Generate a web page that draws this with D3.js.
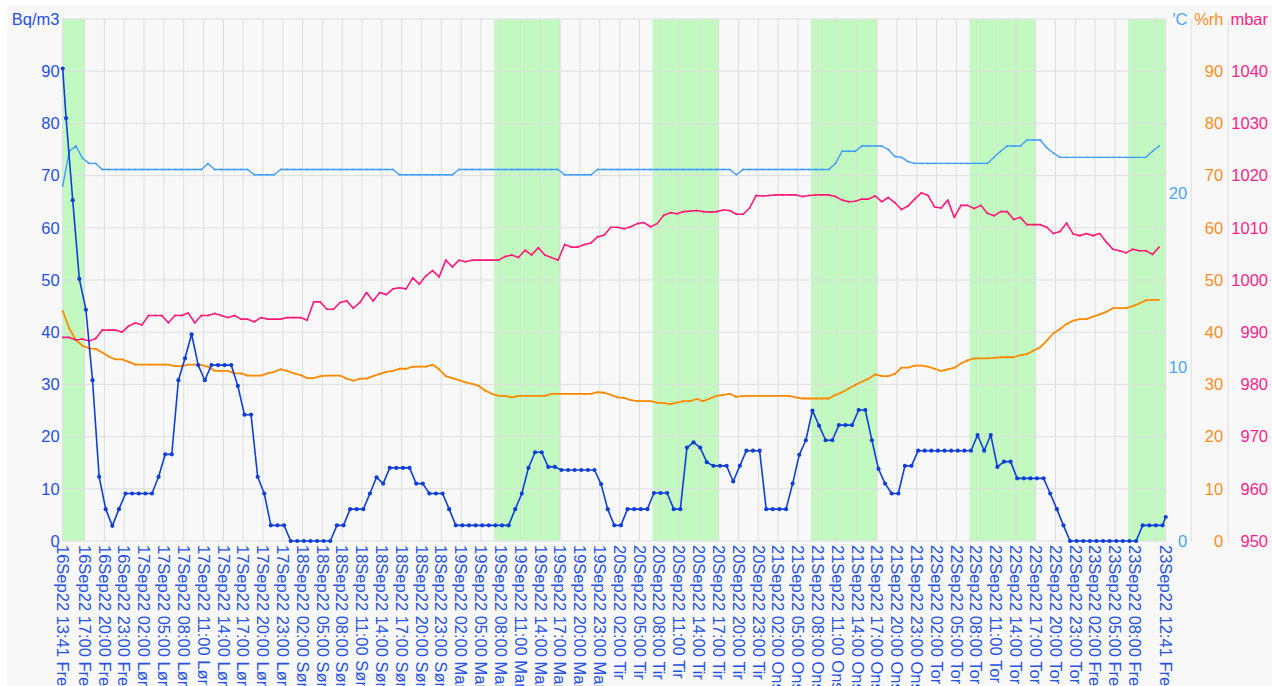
<!DOCTYPE html>
<html>
<head>
<meta charset="utf-8">
<script src="https://cdn.jsdelivr.net/npm/d3@7"></script>
<style>
  html, body { margin: 0; padding: 0; background: #ffffff; }
  svg { display: block; font-family: "Liberation Sans", Arial, sans-serif; }
</style>
</head>
<body>
<svg id="chart" width="1272" height="686"></svg>
<script>
// radon: first reading 13:41, then hourly at hh:12, last reading 12:41
const radonStart = new Date(2022, 8, 16, 13, 41);
const radonEnd = new Date(2022, 8, 23, 12, 41);
const radon = [
  90.5, 81, 65.3, 50.2, 44.3, 30.8, 12.3, 6.1, 2.9, 6.1,
  9.1, 9.1, 9.1, 9.1, 9.1, 12.3, 16.6, 16.6, 30.8, 35,
  39.6, 33.7, 30.8, 33.7, 33.7, 33.7, 33.7, 29.7, 24.2, 24.2,
  12.3, 9.1, 3, 3, 3, 0, 0, 0, 0, 0,
  0, 0, 3, 3, 6.1, 6.1, 6.1, 9.1, 12.2, 11,
  14, 14, 14, 14, 11, 11, 9.1, 9.1, 9.1, 6.1,
  3, 3, 3, 3, 3, 3, 3, 3, 3, 6.1,
  9.1, 14, 17, 17, 14.2, 14.2, 13.6, 13.6, 13.6, 13.6,
  13.6, 13.6, 10.9, 6.1, 3, 3, 6.1, 6.1, 6.1, 6.1,
  9.2, 9.2, 9.2, 6.1, 6.1, 17.9, 18.9, 17.9, 15.1, 14.4,
  14.4, 14.4, 11.4, 14.4, 17.3, 17.3, 17.3, 6.1, 6.1, 6.1,
  6.1, 11, 16.5, 19.3, 25, 22.1, 19.3, 19.3, 22.2, 22.2,
  22.2, 25.1, 25.1, 19.3, 13.8, 11, 9.1, 9.1, 14.4, 14.4,
  17.3, 17.3, 17.3, 17.3, 17.3, 17.3, 17.3, 17.3, 17.3, 20.3,
  17.3, 20.3, 14.2, 15.2, 15.2, 12, 12, 12, 12, 12,
  9.1, 6.1, 3, 0, 0, 0, 0, 0, 0, 0,
  0, 0, 0, 0, 3, 3, 3, 3, 4.6
];

// climate sensor: hourly at hh:41 from 16Sep 13:41
const envStart = new Date(2022, 8, 16, 13, 41);
const temperature = [
  20.4, 22.4, 22.7, 22.0, 21.7, 21.7, 21.35, 21.35, 21.35, 21.35,
  21.35, 21.35, 21.35, 21.35, 21.35, 21.35, 21.35, 21.35, 21.35, 21.35,
  21.35, 21.35, 21.7, 21.35, 21.35, 21.35, 21.35, 21.35, 21.35, 21.05,
  21.05, 21.05, 21.05, 21.35, 21.35, 21.35, 21.35, 21.35, 21.35, 21.35,
  21.35, 21.35, 21.35, 21.35, 21.35, 21.35, 21.35, 21.35, 21.35, 21.35,
  21.35, 21.05, 21.05, 21.05, 21.05, 21.05, 21.05, 21.05, 21.05, 21.05,
  21.35, 21.35, 21.35, 21.35, 21.35, 21.35, 21.35, 21.35, 21.35, 21.35,
  21.35, 21.35, 21.35, 21.35, 21.35, 21.35, 21.05, 21.05, 21.05, 21.05,
  21.05, 21.35, 21.35, 21.35, 21.35, 21.35, 21.35, 21.35, 21.35, 21.35,
  21.35, 21.35, 21.35, 21.35, 21.35, 21.35, 21.35, 21.35, 21.35, 21.35,
  21.35, 21.35, 21.05, 21.35, 21.35, 21.35, 21.35, 21.35, 21.35, 21.35,
  21.35, 21.35, 21.35, 21.35, 21.35, 21.35, 21.35, 21.7, 22.4, 22.4,
  22.4, 22.7, 22.7, 22.7, 22.7, 22.5, 22.1, 22.05, 21.8, 21.7,
  21.7, 21.7, 21.7, 21.7, 21.7, 21.7, 21.7, 21.7, 21.7, 21.7,
  21.7, 22.05, 22.4, 22.7, 22.7, 22.7, 23.05, 23.05, 23.05, 22.6,
  22.3, 22.05, 22.05, 22.05, 22.05, 22.05, 22.05, 22.05, 22.05, 22.05,
  22.05, 22.05, 22.05, 22.05, 22.05, 22.4, 22.7
];
const humidity = [
  44.1, 40.7, 38.5, 37.4, 36.9, 36.8, 36.1, 35.3, 34.8, 34.8,
  34.3, 33.8, 33.8, 33.8, 33.8, 33.8, 33.8, 33.5, 33.5, 33.8,
  33.8, 33.7, 33.4, 32.6, 32.6, 32.6, 32.1, 32.1, 31.7, 31.7,
  31.7, 32.1, 32.4, 32.9, 32.6, 32.1, 31.8, 31.2, 31.2, 31.6,
  31.7, 31.7, 31.7, 31.1, 30.7, 31.1, 31.1, 31.6, 32.0, 32.4,
  32.6, 33.0, 33.0, 33.4, 33.4, 33.4, 33.8, 32.9, 31.6, 31.2,
  30.8, 30.4, 30.1, 29.7, 28.8, 28.2, 27.8, 27.8, 27.5, 27.8,
  27.8, 27.8, 27.8, 27.8, 28.2, 28.2, 28.2, 28.2, 28.2, 28.2,
  28.2, 28.5, 28.4, 28.0, 27.5, 27.4, 27.0, 26.8, 26.8, 26.8,
  26.5, 26.4, 26.2, 26.5, 26.8, 26.8, 27.2, 26.8, 27.3, 27.8,
  28.0, 28.2, 27.6, 27.8, 27.8, 27.8, 27.8, 27.8, 27.8, 27.8,
  27.8, 27.5, 27.3, 27.3, 27.3, 27.3, 27.3, 28.0, 28.5, 29.2,
  29.9, 30.5, 31.1, 31.9, 31.6, 31.6, 32.0, 33.2, 33.2, 33.6,
  33.6, 33.4, 33.0, 32.6, 32.9, 33.2, 34.0, 34.6, 35.0, 35.0,
  35.0, 35.1, 35.2, 35.2, 35.2, 35.6, 35.8, 36.5, 37.1, 38.4,
  39.8, 40.6, 41.6, 42.2, 42.5, 42.5, 43.0, 43.4, 43.9, 44.6,
  44.6, 44.6, 45.0, 45.5, 46.1, 46.2, 46.2
];
const pressure = [
  989.0, 989.0, 988.5, 988.7, 988.3, 988.8, 990.4, 990.4, 990.4, 990.0,
  991.2, 991.8, 991.4, 993.2, 993.2, 993.2, 991.8, 993.2, 993.2, 993.7,
  991.8, 993.2, 993.2, 993.6, 993.2, 992.8, 993.2, 992.5, 992.5, 992.0,
  992.8, 992.5, 992.5, 992.5, 992.8, 992.8, 992.8, 992.3, 995.8, 995.8,
  994.4, 994.4, 995.7, 996.0, 994.6, 995.7, 997.6, 996.0, 997.6, 997.2,
  998.3, 998.5, 998.3, 1000.4, 999.2, 1000.8, 1001.8, 1000.6, 1003.8, 1002.5,
  1003.8, 1003.5, 1003.8, 1003.8, 1003.8, 1003.8, 1003.8, 1004.5, 1004.8, 1004.3,
  1005.7, 1004.8, 1006.2, 1004.8, 1004.3, 1003.8, 1006.8, 1006.3, 1006.3, 1006.8,
  1007.1, 1008.3, 1008.6, 1010.1, 1010.1, 1009.8, 1010.2, 1010.8, 1011.0, 1010.2,
  1010.8, 1012.4, 1012.9, 1012.7, 1013.1, 1013.2, 1013.3, 1013.1, 1013.0, 1013.1,
  1013.4, 1013.3, 1012.6, 1012.6, 1013.8, 1016.2, 1016.1, 1016.2, 1016.3, 1016.3,
  1016.3, 1016.3, 1016.0, 1016.2, 1016.3, 1016.3, 1016.3, 1016.0, 1015.3, 1015.0,
  1015.1, 1015.5, 1015.5, 1016.1, 1015.0, 1015.8, 1014.8, 1013.5, 1014.2, 1015.5,
  1016.7, 1016.2, 1014.0, 1013.8, 1015.3, 1012.0, 1014.3, 1014.3, 1013.7, 1014.3,
  1012.8, 1012.3, 1013.1, 1013.1, 1011.6, 1012.0, 1010.6, 1010.6, 1010.6, 1010.1,
  1008.9, 1009.3, 1010.9, 1008.8, 1008.5, 1008.9, 1008.5, 1008.9, 1007.3, 1005.9,
  1005.6, 1005.2, 1005.9, 1005.6, 1005.6, 1004.9, 1006.3
];

// working hours (green)
const workBands = [
  [new Date(2022, 8, 16, 7, 0), new Date(2022, 8, 16, 17, 0)],
  [new Date(2022, 8, 19, 7, 0), new Date(2022, 8, 19, 17, 0)],
  [new Date(2022, 8, 20, 7, 0), new Date(2022, 8, 20, 17, 0)],
  [new Date(2022, 8, 21, 7, 0), new Date(2022, 8, 21, 17, 0)],
  [new Date(2022, 8, 22, 7, 0), new Date(2022, 8, 22, 17, 0)],
  [new Date(2022, 8, 23, 7, 0), new Date(2022, 8, 23, 17, 0)]
];
const dayNames = ['Søn', 'Man', 'Tir', 'Ons', 'Tor', 'Fre', 'Lør'];
const leftTicks = [0, 10, 20, 30, 40, 50, 60, 70, 80, 90];
const tempTicks = [0, 10, 20];
const mbarTicks = [950, 960, 970, 980, 990, 1000, 1010, 1020, 1030, 1040];

const colors = {
  radon: '#0f3fd8', radonText: '#2451e4',
  temp: '#3d9dff', tempText: '#4aa5ff',
  hum: '#ff8a00', humText: '#ff8c1a',
  mbar: '#ff1a78', mbarText: '#ff1f86',
  grid: '#dddddd', band: '#c2f9c0'
};

const plotLeft = 62.7, plotRight = 1165.7, plotTop = 19, plotBottom = 541;

const radonTimes = [radonStart]
  .concat(d3.range(radon.length - 2).map(i => new Date(2022, 8, 16, 14 + i, 12)))
  .concat([radonEnd]);
const envTimes = temperature.map((d, i) => d3.timeHour.offset(envStart, i));

const x = d3.scaleTime().domain([radonStart, radonEnd]).range([plotLeft, plotRight]);
const yBq = d3.scaleLinear().domain([0, 100]).range([plotBottom, plotTop]);
const yTemp = d3.scaleLinear().domain([0, 30]).range([plotBottom, plotTop]);
const yMbar = d3.scaleLinear().domain([950, 1050]).range([plotBottom, plotTop]);

const svg = d3.select('#chart');

svg.append('rect')
  .attr('x', 7).attr('y', 6).attr('width', 1265).attr('height', 680)
  .attr('fill', '#f8f8f8');

// green bands
svg.append('g').selectAll('rect')
  .data(workBands)
  .enter()
  .append('rect')
  .attr('x', d => x(d3.max([d[0], radonStart])))
  .attr('y', plotTop)
  .attr('width', d => x(d3.min([d[1], radonEnd])) - x(d3.max([d[0], radonStart])))
  .attr('height', plotBottom - plotTop)
  .attr('fill', colors.band);

// 3-hour ticks at 02, 05, 08 ...
const hourTicks = d3.timeHour.range(radonStart, radonEnd).filter(d => d.getHours() % 3 === 2);
const gridTicks = hourTicks.filter(d => x(d) - plotLeft > 4 && plotRight - x(d) > 4);
const labelTicks = [radonStart]
  .concat(hourTicks.filter(d => x(d) - plotLeft > 12 && plotRight - x(d) > 14))
  .concat([radonEnd]);

const grid = svg.append('g').attr('stroke', colors.grid).attr('stroke-width', 1);
grid.selectAll('.vg')
  .data([radonStart].concat(gridTicks).concat([radonEnd]))
  .enter()
  .append('line')
  .attr('x1', d => x(d)).attr('x2', d => x(d))
  .attr('y1', plotTop).attr('y2', plotBottom);
grid.selectAll('.hg')
  .data(leftTicks.concat([100]))
  .enter()
  .append('line')
  .attr('x1', plotLeft).attr('x2', plotRight)
  .attr('y1', d => yBq(d)).attr('y2', d => yBq(d));

// x labels, rotated (the bottom of the long labels runs off the picture, as in the original)
const fmt = d3.timeFormat('%d%b%y %H:%M');
svg.append('g').selectAll('text')
  .data(labelTicks)
  .enter()
  .append('text')
  .attr('transform', d => `translate(${x(d)},${plotBottom + 4}) rotate(90)`)
  .attr('dy', '0.35em')
  .attr('font-size', '16.5px')
  .attr('fill', colors.radonText)
  .text(d => fmt(d) + ' ' + dayNames[d.getDay()]);

// y axes
function styleAxis(g, color, showDomain) {
  g.selectAll('text').attr('fill', color).attr('font-size', '16.5px')
    .attr('font-family', '"Liberation Sans", Arial, sans-serif');
  g.selectAll('line').attr('stroke', colors.grid);
  g.select('.domain').attr('stroke', showDomain ? colors.grid : 'none');
}

svg.append('g')
  .attr('transform', `translate(${plotLeft},0)`)
  .call(d3.axisLeft(yBq).tickValues(leftTicks).tickSize(0).tickPadding(3))
  .call(g => styleAxis(g, colors.radonText, false));

svg.append('g')
  .attr('transform', 'translate(1190.7,0)')
  .call(d3.axisLeft(yTemp).tickValues(tempTicks).tickSize(0).tickPadding(3.5))
  .call(g => styleAxis(g, colors.tempText, true));

svg.append('g')
  .attr('transform', 'translate(1227.7,0)')
  .call(d3.axisLeft(yBq).tickValues(leftTicks).tickSize(0).tickPadding(4.5))
  .call(g => styleAxis(g, colors.humText, true));

svg.append('g')
  .attr('transform', 'translate(1271.5,0)')
  .call(d3.axisLeft(yMbar).tickValues(mbarTicks).tickFormat(d3.format('d'))
    .tickSizeInner(3).tickSizeOuter(0).tickPadding(0.5))
  .call(g => styleAxis(g, colors.mbarText, false));

// axis titles
const titles = [
  { text: 'Bq/m3', x: 59.5, color: colors.radonText },
  { text: "'C", x: 1187.5, color: colors.tempText },
  { text: '%rh', x: 1223.5, color: colors.humText },
  { text: 'mbar', x: 1268, color: colors.mbarText }
];
svg.append('g').selectAll('text')
  .data(titles)
  .enter()
  .append('text')
  .attr('x', d => d.x).attr('y', 25)
  .attr('text-anchor', 'end')
  .attr('font-size', '16.5px')
  .attr('fill', d => d.color)
  .text(d => d.text);

// series
function drawSeries(values, times, yScale, color, width, r) {
  const pts = values.map((v, i) => [x(times[i]), yScale(v)]);
  svg.append('path')
    .attr('d', d3.line()(pts))
    .attr('fill', 'none')
    .attr('stroke', color)
    .attr('stroke-width', width)
    .attr('stroke-linejoin', 'round');
  svg.append('g').selectAll('circle')
    .data(pts)
    .enter()
    .append('circle')
    .attr('cx', d => d[0]).attr('cy', d => d[1])
    .attr('r', r)
    .attr('fill', color);
}

drawSeries(temperature, envTimes, yTemp, colors.temp, 1.4, 0.9);
drawSeries(humidity, envTimes, yBq, colors.hum, 1.8, 0.9);
drawSeries(pressure, envTimes, yMbar, colors.mbar, 1.6, 0.9);
drawSeries(radon, radonTimes, yBq, colors.radon, 1.6, 2.1);
</script>
</body>
</html>
